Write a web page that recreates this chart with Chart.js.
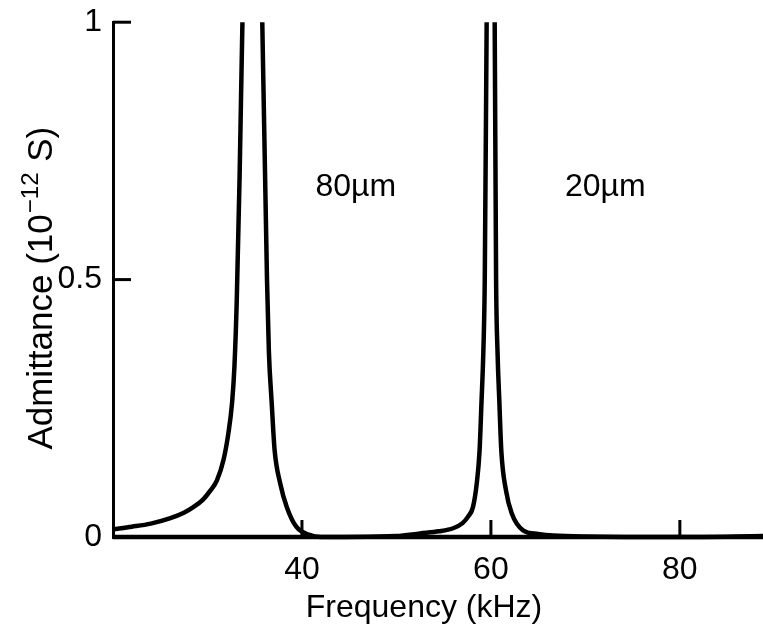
<!DOCTYPE html>
<html>
<head>
<meta charset="utf-8">
<script src="https://cdn.jsdelivr.net/npm/chart.js@4/dist/chart.umd.min.js"></script>
<style>
  html, body { margin: 0; padding: 0; background: #fff; }
</style>
</head>
<body>
<canvas id="admChart" width="763" height="635"></canvas>
<script>
    // values (frequency in kHz, admittance in 1e-12 S)
    var freq80 = [20, 22, 24, 26, 27.5, 28.5, 29.5, 30.3, 31, 31.7, 32.2, 32.6, 32.85, 33.1, 33.4, 33.7, 34.8,
                  35.8, 36.3, 36.5, 36.8, 37.1, 37.7, 38.4, 39.4, 40.8, 42, 50, 60, 70, 80, 88.8];
    var adm80 = [0.015, 0.02, 0.026, 0.036, 0.047, 0.058, 0.072, 0.09, 0.11, 0.15, 0.2, 0.26, 0.33, 0.46, 0.7, 1.0, 1.8,
                 1.0, 0.5, 0.36, 0.26, 0.17, 0.104, 0.058, 0.02, 0.004, 0, 0, 0, 0, 0, 0];

    var freq20 = [20, 40, 50, 52.5, 54.5, 56, 57, 57.6, 58.1, 58.5, 58.8, 59, 59.2, 59.35, 59.55, 60,
                  60.4, 60.55, 60.7, 60.9, 61.1, 61.6, 62.2, 63.4, 65, 66.6, 70, 80, 88.8];
    var adm20 = [0, 0, 0.002, 0.007, 0.011, 0.017, 0.027, 0.04, 0.058, 0.104, 0.168, 0.26, 0.36, 0.5, 1.0, 1.8,
                 1.0, 0.5, 0.36, 0.26, 0.168, 0.09, 0.046, 0.013, 0.006, 0.003, 0.001, 0, 0.002];

    var xTicks = [40, 60, 80];
    var yTicks = [0, 0.5, 1];

    var curveNames = ["80\u00b5m", "20\u00b5m"];
    var nameFreq = [45.7, 72.1];
    var nameAdm = [0.68, 0.68];

    var FONT = '"Liberation Sans", Arial, Helvetica, sans-serif';

    function toPoints(xs, ys) {
        return xs.map(function (f, i) { return { x: f, y: ys[i] }; });
    }

    // inward tick marks, curve names and axis titles
    var extras = {
        id: "extras",
        afterDraw: function (chart) {
            var ctx = chart.ctx, area = chart.chartArea;
            var xs = chart.scales.x, ys = chart.scales.y;
            ctx.save();
            ctx.strokeStyle = "#000";
            ctx.lineWidth = 3;
            yTicks.forEach(function (v) {
                if (v === 0) return;
                var py = ys.getPixelForValue(v);
                ctx.beginPath();
                ctx.moveTo(area.left, py);
                ctx.lineTo(area.left + 18, py);
                ctx.stroke();
            });
            xTicks.forEach(function (v) {
                var px = xs.getPixelForValue(v);
                ctx.beginPath();
                ctx.moveTo(px, area.bottom);
                ctx.lineTo(px, area.bottom - 17);
                ctx.stroke();
            });

            ctx.fillStyle = "#000";
            ctx.font = "32px " + FONT;
            ctx.textAlign = "center";
            ctx.textBaseline = "middle";
            curveNames.forEach(function (name, i) {
                ctx.fillText(name, xs.getPixelForValue(nameFreq[i]), ys.getPixelForValue(nameAdm[i]));
            });

            // x title
            ctx.textBaseline = "alphabetic";
            ctx.fillText("Frequency (kHz)", area.left + 311, area.bottom + 80);

            // y title with superscript
            var big = "35px " + FONT, small = "24px " + FONT;
            var p1 = "Admittance (10", p2 = "\u221212", p3 = " S)";
            ctx.font = big;
            var w1 = ctx.measureText(p1).width, w3 = ctx.measureText(p3).width;
            ctx.font = small;
            var w2 = ctx.measureText(p2).width + 2;
            var total = w1 + w2 + w3;
            ctx.translate(52, area.top + 266);
            ctx.rotate(-Math.PI / 2);
            ctx.textAlign = "left";
            var sx = -total / 2;
            ctx.font = big;
            ctx.fillText(p1, sx, 0);
            ctx.font = small;
            ctx.fillText(p2, sx + w1 + 1, -14);
            ctx.font = big;
            ctx.fillText(p3, sx + w1 + w2, 0);
            ctx.restore();
        }
    };

    var ctx = document.getElementById("admChart").getContext("2d");
    var chart = new Chart(ctx, {
        type: "line",
        data: {
            datasets: [
                {
                    label: curveNames[0],
                    data: toPoints(freq80, adm80),
                    borderColor: "#000",
                    borderWidth: 4.5,
                    pointRadius: 0,
                    fill: false,
                    cubicInterpolationMode: "monotone",
                    clip: { left: 0, top: 0, right: 0, bottom: 5 }
                },
                {
                    label: curveNames[1],
                    data: toPoints(freq20, adm20),
                    borderColor: "#000",
                    borderWidth: 4.5,
                    pointRadius: 0,
                    fill: false,
                    cubicInterpolationMode: "monotone",
                    clip: { left: 0, top: 0, right: 0, bottom: 5 }
                }
            ]
        },
        options: {
            responsive: false,
            animation: false,
            layout: { padding: { top: 19, right: 0, left: 0, bottom: 0 } },
            plugins: {
                legend: { display: false },
                tooltip: { enabled: false }
            },
            scales: {
                x: {
                    type: "linear",
                    min: 20,
                    max: 88.8,
                    grid: { display: false },
                    border: { display: true, color: "#000", width: 3 },
                    afterBuildTicks: function (scale) {
                        scale.ticks = xTicks.map(function (v) { return { value: v }; });
                    },
                    afterFit: function (scale) { scale.height = 98; },
                    ticks: {
                        color: "#000",
                        padding: 6,
                        maxRotation: 0,
                        font: { family: FONT, size: 32 },
                        callback: function (v) { return String(v); }
                    }
                },
                y: {
                    type: "linear",
                    min: 0,
                    max: 1,
                    grid: { display: false },
                    border: { display: true, color: "#000", width: 3 },
                    afterBuildTicks: function (scale) {
                        scale.ticks = yTicks.map(function (v) { return { value: v }; });
                    },
                    afterFit: function (scale) { scale.width = 113; },
                    ticks: {
                        color: "#000",
                        padding: 3,
                        font: { family: FONT, size: 32 },
                        callback: function (v) { return String(v); }
                    }
                }
            }
        },
        plugins: [extras]
    });
</script>
</body>
</html>
